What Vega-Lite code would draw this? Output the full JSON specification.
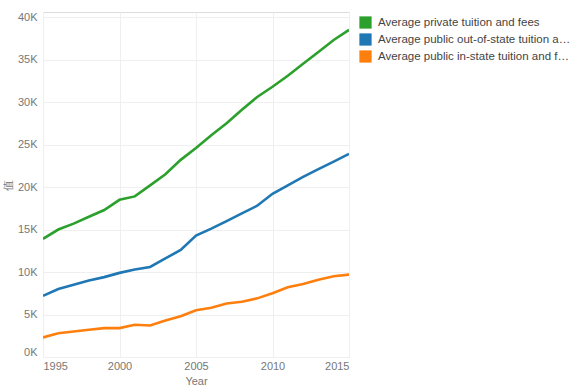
{
  "$schema": "https://vega.github.io/schema/vega-lite/v6.json",
  "autosize": {"type": "none"},
  "width": 306,
  "height": 345,
  "padding": {"left": 43, "top": 12, "right": 234, "bottom": 35},
  "background": "white",
  "config": {
    "font": "Liberation Sans",
    "view": {"stroke": "#dcdcdc", "strokeWidth": 1}
  },
  "data": {
    "values": [
      {"Year": 1995, "Series": "Average private tuition and fees", "Value": 13900},
      {"Year": 1996, "Series": "Average private tuition and fees", "Value": 15000},
      {"Year": 1997, "Series": "Average private tuition and fees", "Value": 15700},
      {"Year": 1998, "Series": "Average private tuition and fees", "Value": 16500},
      {"Year": 1999, "Series": "Average private tuition and fees", "Value": 17300},
      {"Year": 2000, "Series": "Average private tuition and fees", "Value": 18500},
      {"Year": 2001, "Series": "Average private tuition and fees", "Value": 18900},
      {"Year": 2002, "Series": "Average private tuition and fees", "Value": 20200},
      {"Year": 2003, "Series": "Average private tuition and fees", "Value": 21500},
      {"Year": 2004, "Series": "Average private tuition and fees", "Value": 23200},
      {"Year": 2005, "Series": "Average private tuition and fees", "Value": 24600},
      {"Year": 2006, "Series": "Average private tuition and fees", "Value": 26100},
      {"Year": 2007, "Series": "Average private tuition and fees", "Value": 27500},
      {"Year": 2008, "Series": "Average private tuition and fees", "Value": 29100},
      {"Year": 2009, "Series": "Average private tuition and fees", "Value": 30600},
      {"Year": 2010, "Series": "Average private tuition and fees", "Value": 31800},
      {"Year": 2011, "Series": "Average private tuition and fees", "Value": 33100},
      {"Year": 2012, "Series": "Average private tuition and fees", "Value": 34500},
      {"Year": 2013, "Series": "Average private tuition and fees", "Value": 35900},
      {"Year": 2014, "Series": "Average private tuition and fees", "Value": 37300},
      {"Year": 2015, "Series": "Average private tuition and fees", "Value": 38500},
      {"Year": 1995, "Series": "Average public out-of-state tuition and fees", "Value": 7200},
      {"Year": 1996, "Series": "Average public out-of-state tuition and fees", "Value": 8000},
      {"Year": 1997, "Series": "Average public out-of-state tuition and fees", "Value": 8500},
      {"Year": 1998, "Series": "Average public out-of-state tuition and fees", "Value": 9000},
      {"Year": 1999, "Series": "Average public out-of-state tuition and fees", "Value": 9400},
      {"Year": 2000, "Series": "Average public out-of-state tuition and fees", "Value": 9900},
      {"Year": 2001, "Series": "Average public out-of-state tuition and fees", "Value": 10300},
      {"Year": 2002, "Series": "Average public out-of-state tuition and fees", "Value": 10600},
      {"Year": 2003, "Series": "Average public out-of-state tuition and fees", "Value": 11600},
      {"Year": 2004, "Series": "Average public out-of-state tuition and fees", "Value": 12600},
      {"Year": 2005, "Series": "Average public out-of-state tuition and fees", "Value": 14300},
      {"Year": 2006, "Series": "Average public out-of-state tuition and fees", "Value": 15100},
      {"Year": 2007, "Series": "Average public out-of-state tuition and fees", "Value": 16000},
      {"Year": 2008, "Series": "Average public out-of-state tuition and fees", "Value": 16900},
      {"Year": 2009, "Series": "Average public out-of-state tuition and fees", "Value": 17800},
      {"Year": 2010, "Series": "Average public out-of-state tuition and fees", "Value": 19200},
      {"Year": 2011, "Series": "Average public out-of-state tuition and fees", "Value": 20200},
      {"Year": 2012, "Series": "Average public out-of-state tuition and fees", "Value": 21200},
      {"Year": 2013, "Series": "Average public out-of-state tuition and fees", "Value": 22100},
      {"Year": 2014, "Series": "Average public out-of-state tuition and fees", "Value": 23000},
      {"Year": 2015, "Series": "Average public out-of-state tuition and fees", "Value": 23900},
      {"Year": 1995, "Series": "Average public in-state tuition and fees", "Value": 2300},
      {"Year": 1996, "Series": "Average public in-state tuition and fees", "Value": 2800},
      {"Year": 1997, "Series": "Average public in-state tuition and fees", "Value": 3000},
      {"Year": 1998, "Series": "Average public in-state tuition and fees", "Value": 3200},
      {"Year": 1999, "Series": "Average public in-state tuition and fees", "Value": 3400},
      {"Year": 2000, "Series": "Average public in-state tuition and fees", "Value": 3400},
      {"Year": 2001, "Series": "Average public in-state tuition and fees", "Value": 3800},
      {"Year": 2002, "Series": "Average public in-state tuition and fees", "Value": 3700},
      {"Year": 2003, "Series": "Average public in-state tuition and fees", "Value": 4300},
      {"Year": 2004, "Series": "Average public in-state tuition and fees", "Value": 4800},
      {"Year": 2005, "Series": "Average public in-state tuition and fees", "Value": 5500},
      {"Year": 2006, "Series": "Average public in-state tuition and fees", "Value": 5800},
      {"Year": 2007, "Series": "Average public in-state tuition and fees", "Value": 6300},
      {"Year": 2008, "Series": "Average public in-state tuition and fees", "Value": 6500},
      {"Year": 2009, "Series": "Average public in-state tuition and fees", "Value": 6900},
      {"Year": 2010, "Series": "Average public in-state tuition and fees", "Value": 7500},
      {"Year": 2011, "Series": "Average public in-state tuition and fees", "Value": 8200},
      {"Year": 2012, "Series": "Average public in-state tuition and fees", "Value": 8600},
      {"Year": 2013, "Series": "Average public in-state tuition and fees", "Value": 9100},
      {"Year": 2014, "Series": "Average public in-state tuition and fees", "Value": 9500},
      {"Year": 2015, "Series": "Average public in-state tuition and fees", "Value": 9700}
    ]
  },
  "mark": {"type": "line", "strokeWidth": 2.6, "clip": true},
  "encoding": {
    "x": {
      "field": "Year",
      "type": "quantitative",
      "scale": {"domain": [1995, 2015], "nice": false, "zero": false},
      "axis": {
        "title": "Year",
        "values": [1995, 2000, 2005, 2010, 2015],
        "format": "d",
        "labelFlush": true,
        "ticks": false,
        "domain": false,
        "labelPadding": 3,
        "labelFontSize": 11,
        "labelColor": "#777777",
        "titleFontSize": 11,
        "titleFontWeight": "normal",
        "titleColor": "#777777",
        "titlePadding": 4,
        "gridColor": "#efefef",
        "gridWidth": 1
      }
    },
    "y": {
      "field": "Value",
      "type": "quantitative",
      "scale": {"domain": [0, 40600], "nice": false},
      "axis": {
        "title": "值",
        "values": [0, 5000, 10000, 15000, 20000, 25000, 30000, 35000, 40000],
        "labelExpr": "(datum.value / 1000) + 'K'",
        "labelFlush": true,
        "ticks": false,
        "domain": false,
        "labelPadding": 6,
        "labelFontSize": 11,
        "labelColor": "#777777",
        "titleFontSize": 11,
        "titleFontWeight": "normal",
        "titleColor": "#777777",
        "titlePadding": 4,
        "gridColor": "#efefef",
        "gridWidth": 1
      }
    },
    "color": {
      "field": "Series",
      "type": "nominal",
      "scale": {
        "domain": ["Average private tuition and fees", "Average public out-of-state tuition and fees", "Average public in-state tuition and fees"],
        "range": ["#2ca02c", "#1f77b4", "#ff7f0e"]
      },
      "legend": {
        "title": null,
        "orient": "none",
        "legendX": 316,
        "legendY": 4,
        "symbolType": "square",
        "symbolSize": 150,
        "symbolStrokeWidth": 0,
        "symbolOpacity": 1,
        "rowPadding": 4,
        "labelFontSize": 11.5,
        "labelColor": "#444444",
        "labelLimit": 196,
        "labelOffset": 6,
        "padding": 0,
        "encode": {
          "symbols": {
            "update": {
              "fill": {"scale": "color", "field": "value"},
              "stroke": {"value": "transparent"}
            }
          }
        }
      }
    }
  }
}
